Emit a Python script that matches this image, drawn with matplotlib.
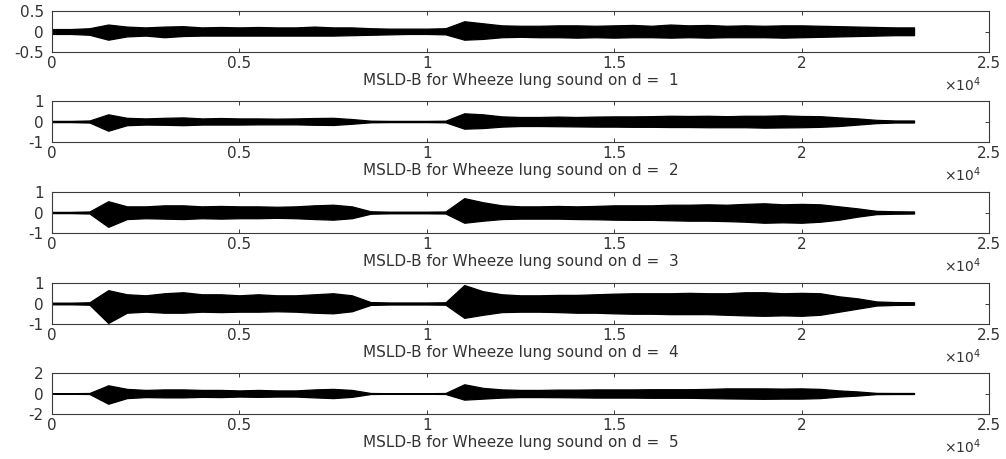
"""
Five stacked MSLD-B waveform panels (wheeze lung sound, d = 1..5),
drawn as filled amplitude envelopes in a MATLAB-like style.
"""
import numpy as np
import matplotlib
matplotlib.use("Agg")
import matplotlib.pyplot as plt

plt.rcParams["font.family"] = ["DejaVu Sans"]
plt.rcParams["axes.unicode_minus"] = False

TEXT = "#333333"
EDGE = "#3a3a3a"

# sample positions of the envelope readings (every 500 samples, 0..23000)
samples = np.arange(0, 23001, 500)

# upper / lower envelope of each decomposition level
upper_d1 = [0.06, 0.06, 0.08, 0.17, 0.12, 0.10, 0.12, 0.13, 0.10, 0.11, 0.10, 0.11,
            0.10, 0.10, 0.12, 0.10, 0.10, 0.08, 0.07, 0.07, 0.07, 0.08, 0.25, 0.20,
            0.15, 0.14, 0.14, 0.15, 0.15, 0.14, 0.15, 0.16, 0.14, 0.17, 0.15, 0.16,
            0.14, 0.15, 0.14, 0.15, 0.15, 0.14, 0.13, 0.12, 0.11, 0.10, 0.10]
lower_d1 = [0.06, 0.06, 0.08, 0.20, 0.12, 0.10, 0.14, 0.11, 0.10, 0.10, 0.10, 0.10,
            0.10, 0.10, 0.10, 0.10, 0.09, 0.08, 0.07, 0.06, 0.06, 0.07, 0.20, 0.18,
            0.14, 0.13, 0.14, 0.14, 0.15, 0.14, 0.15, 0.14, 0.14, 0.15, 0.14, 0.15,
            0.14, 0.14, 0.14, 0.15, 0.14, 0.13, 0.12, 0.11, 0.10, 0.09, 0.09]

upper_d2 = [0.03, 0.03, 0.05, 0.35, 0.18, 0.15, 0.18, 0.20, 0.15, 0.17, 0.15, 0.15,
            0.14, 0.15, 0.17, 0.18, 0.12, 0.04, 0.03, 0.03, 0.03, 0.04, 0.40, 0.35,
            0.25, 0.22, 0.22, 0.24, 0.22, 0.24, 0.25, 0.25, 0.26, 0.28, 0.27, 0.28,
            0.26, 0.28, 0.28, 0.30, 0.27, 0.26, 0.20, 0.15, 0.08, 0.05, 0.05]
lower_d2 = [0.03, 0.03, 0.05, 0.45, 0.18, 0.15, 0.16, 0.18, 0.15, 0.15, 0.15, 0.14,
            0.14, 0.14, 0.16, 0.17, 0.11, 0.04, 0.03, 0.03, 0.03, 0.04, 0.35, 0.32,
            0.25, 0.22, 0.22, 0.23, 0.24, 0.25, 0.25, 0.26, 0.26, 0.27, 0.27, 0.28,
            0.28, 0.28, 0.30, 0.29, 0.28, 0.26, 0.22, 0.15, 0.08, 0.05, 0.05]

upper_d3 = [0.03, 0.03, 0.05, 0.55, 0.30, 0.30, 0.35, 0.35, 0.30, 0.32, 0.30, 0.30,
            0.28, 0.30, 0.35, 0.38, 0.30, 0.06, 0.04, 0.04, 0.04, 0.05, 0.70, 0.50,
            0.35, 0.30, 0.30, 0.32, 0.30, 0.32, 0.35, 0.35, 0.35, 0.38, 0.38, 0.40,
            0.38, 0.42, 0.45, 0.40, 0.42, 0.40, 0.30, 0.20, 0.08, 0.06, 0.05]
lower_d3 = [0.03, 0.03, 0.05, 0.70, 0.32, 0.28, 0.30, 0.32, 0.28, 0.30, 0.28, 0.28,
            0.26, 0.28, 0.32, 0.35, 0.28, 0.06, 0.04, 0.04, 0.04, 0.05, 0.50, 0.40,
            0.32, 0.30, 0.30, 0.30, 0.32, 0.33, 0.35, 0.36, 0.36, 0.38, 0.40, 0.40,
            0.42, 0.45, 0.50, 0.48, 0.50, 0.45, 0.35, 0.20, 0.08, 0.06, 0.05]

upper_d4 = [0.04, 0.04, 0.06, 0.65, 0.45, 0.40, 0.50, 0.55, 0.45, 0.45, 0.40, 0.45,
            0.40, 0.40, 0.45, 0.50, 0.40, 0.07, 0.05, 0.05, 0.05, 0.06, 0.90, 0.60,
            0.45, 0.40, 0.40, 0.42, 0.42, 0.45, 0.48, 0.50, 0.50, 0.50, 0.52, 0.50,
            0.50, 0.55, 0.55, 0.50, 0.52, 0.50, 0.35, 0.25, 0.10, 0.07, 0.06]
lower_d4 = [0.04, 0.04, 0.06, 0.95, 0.45, 0.40, 0.45, 0.45, 0.40, 0.42, 0.40, 0.40,
            0.38, 0.40, 0.45, 0.48, 0.38, 0.07, 0.05, 0.05, 0.05, 0.06, 0.70, 0.55,
            0.42, 0.40, 0.40, 0.42, 0.45, 0.45, 0.48, 0.50, 0.50, 0.52, 0.52, 0.52,
            0.55, 0.58, 0.60, 0.58, 0.60, 0.55, 0.40, 0.25, 0.10, 0.07, 0.06]

upper_d5 = [0.03, 0.03, 0.05, 0.80, 0.45, 0.35, 0.40, 0.40, 0.35, 0.35, 0.30, 0.35,
            0.30, 0.30, 0.40, 0.45, 0.35, 0.05, 0.03, 0.03, 0.03, 0.05, 0.90, 0.55,
            0.40, 0.35, 0.35, 0.38, 0.38, 0.40, 0.40, 0.40, 0.42, 0.42, 0.42, 0.45,
            0.50, 0.50, 0.50, 0.48, 0.50, 0.45, 0.30, 0.20, 0.06, 0.05, 0.05]
lower_d5 = [0.03, 0.03, 0.05, 1.00, 0.45, 0.35, 0.38, 0.38, 0.33, 0.35, 0.30, 0.33,
            0.30, 0.30, 0.38, 0.45, 0.33, 0.05, 0.03, 0.03, 0.03, 0.05, 0.60, 0.50,
            0.40, 0.35, 0.35, 0.36, 0.38, 0.40, 0.40, 0.40, 0.42, 0.42, 0.42, 0.45,
            0.48, 0.50, 0.52, 0.50, 0.50, 0.45, 0.30, 0.20, 0.06, 0.05, 0.05]

uppers = [upper_d1, upper_d2, upper_d3, upper_d4, upper_d5]
lowers = [lower_d1, lower_d2, lower_d3, lower_d4, lower_d5]
levels = [1, 2, 3, 4, 5]
y_limits = [0.5, 1, 1, 1, 2]
y_ticklabels = [["-0.5", "0", "0.5"], ["-1", "0", "1"], ["-1", "0", "1"],
                ["-1", "0", "1"], ["-2", "0", "2"]]
x_ticks = [0, 5000, 10000, 15000, 20000, 25000]
x_ticklabels = ["0", "0.5", "1", "1.5", "2", "2.5"]

W, H = 1006, 459
fig = plt.figure(figsize=(W / 100, H / 100), dpi=100, facecolor="white")

# panel tops in pixels
tops = [11, 101, 192, 283, 373]
ax_h = 41
left_px, right_px = 52, 989

for i in range(5):
    rect = [left_px / W, 1 - (tops[i] + ax_h) / H,
            (right_px - left_px) / W, ax_h / H]
    ax = fig.add_axes(rect)
    up = np.array(uppers[i])
    lo = -np.array(lowers[i])
    ax.fill_between(samples, lo, up, color="black", linewidth=0.9,
                    edgecolor="black")
    ax.plot(samples, np.zeros_like(samples, dtype=float), color="black",
            linewidth=1.2)

    lim = y_limits[i]
    ax.set_xlim(0, 25000)
    ax.set_ylim(-lim, lim)
    ax.set_xticks(x_ticks)
    ax.set_xticklabels(x_ticklabels)
    ax.set_yticks([-lim, 0, lim])
    ax.set_yticklabels(y_ticklabels[i])

    ax.tick_params(direction="in", length=3, width=0.7, top=True, right=True,
                   colors=EDGE, labelcolor=TEXT, labelsize=11, pad=3)
    ax.tick_params(axis="y", pad=6)
    for sp in ax.spines.values():
        sp.set_color(EDGE)
        sp.set_linewidth(0.8)

    ax.set_xlabel(f"MSLD-B for Wheeze lung sound on d =  {levels[i]}",
                  fontsize=11, color=TEXT, labelpad=1)
    ax.text(0.972, -0.8, r"$\times10^{4}$", transform=ax.transAxes,
            ha="center", va="center", fontsize=10, color=TEXT)

fig.savefig("out.png", dpi=100, facecolor="white")
